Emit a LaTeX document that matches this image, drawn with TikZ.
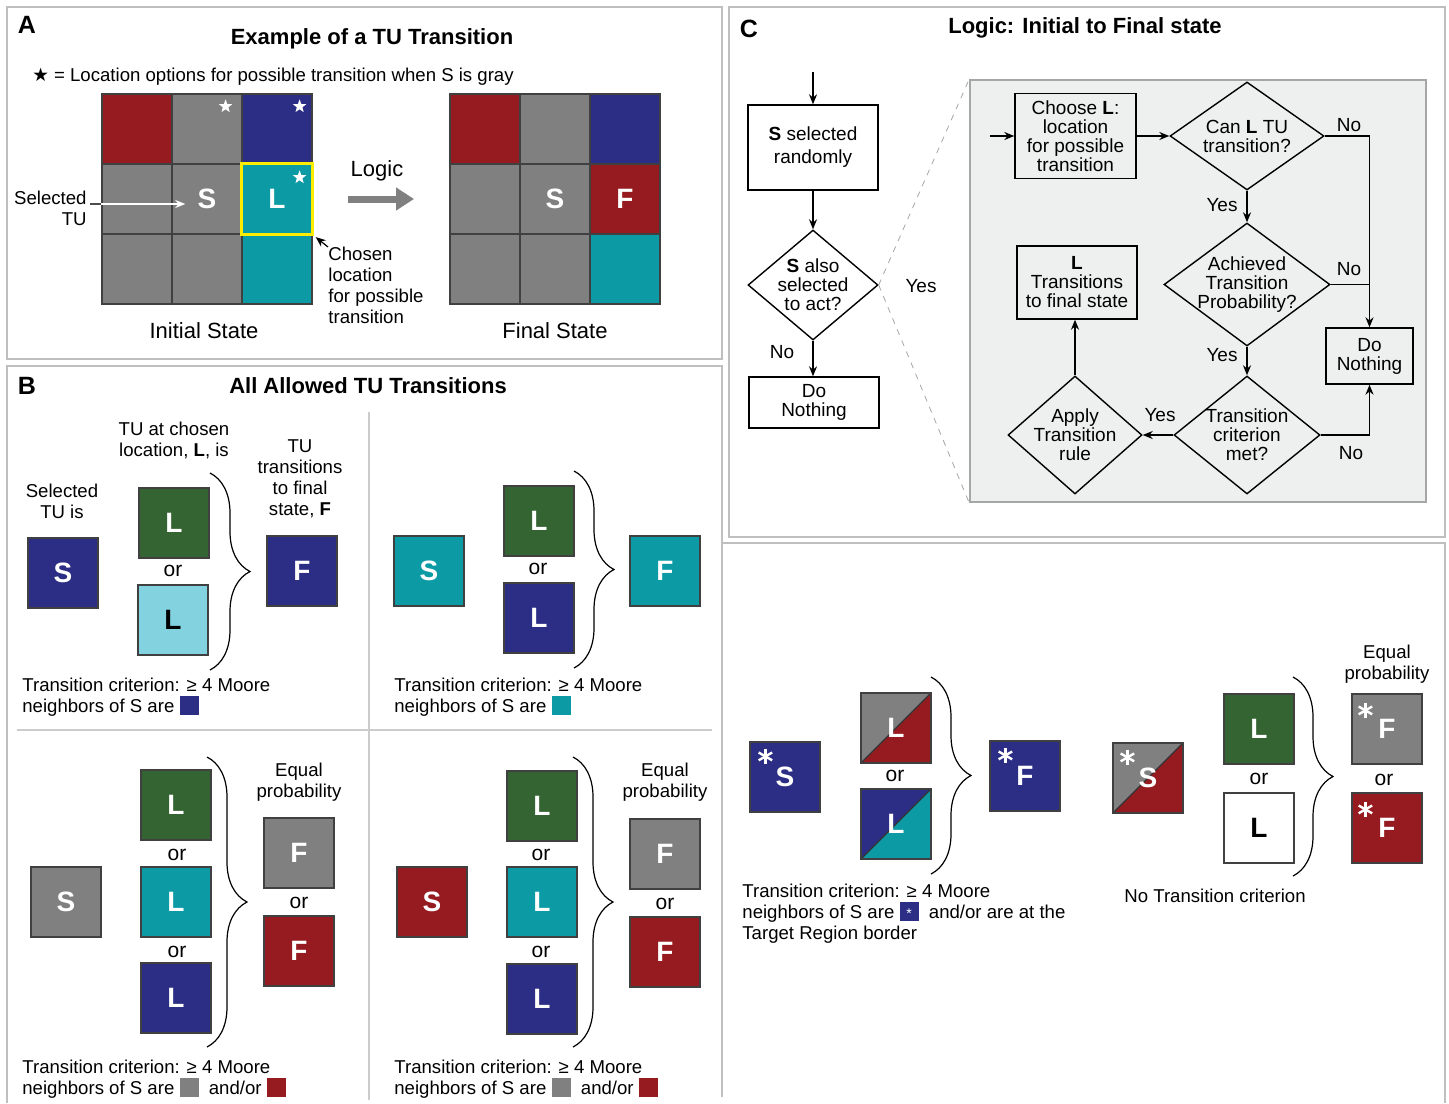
\documentclass[tikz,border=0pt]{standalone}
\usepackage{fontspec}
\setmainfont{Liberation Sans}
\newfontfamily\symfont{DejaVu Sans}
\usepackage{xcolor}
\usepackage{tikz}
\usetikzlibrary{positioning,arrows.meta,shapes.geometric,decorations.pathreplacing}

\definecolor{tured}{RGB}{150,27,32}
\definecolor{tugray}{RGB}{128,128,128}
\definecolor{tublue}{RGB}{43,46,132}
\definecolor{tuteal}{RGB}{12,155,165}
\definecolor{tugreen}{RGB}{52,100,50}
\definecolor{tulight}{RGB}{131,210,224}
\definecolor{tuyellow}{RGB}{255,237,0}
\definecolor{logicbg}{RGB}{238,240,239}

\newcommand{\swatch}[1]{\raisebox{-1.2pt}{\textcolor{#1}{\rule{9.5pt}{9.5pt}}}}
\newcommand{\swatchast}{\raisebox{-1.2pt}{\rlap{\textcolor{tublue}{\rule{9.5pt}{9.5pt}}}\makebox[9.5pt]{\raisebox{1.5pt}{\textcolor{white}{\fontsize{7}{7}\selectfont *}}}}}

\begin{document}
\begin{tikzpicture}[x=0.5pt, y=-0.5pt, align=center, inner sep=0pt,
    font=\fontsize{9.3}{10.5}\selectfont,
    >={Stealth[length=5pt, width=4pt]},
    panel/.style={draw=black!25, line width=1pt},
    divider/.style={draw=black!20, line width=0.8pt},
    letter/.style={font=\fontsize{12.5}{12.5}\selectfont\bfseries},
    heading/.style={font=\fontsize{11}{11}\selectfont\bfseries},
    statecap/.style={font=\fontsize{11}{11}\selectfont},
    cell/.style={draw=black!75, line width=0.6pt, minimum size=35pt},
    tuletter/.style={text=white, font=\fontsize{14}{14}\selectfont\bfseries},
    tu/.style={cell, tuletter},
    splittu/.style 2 args={tu, fill=#1, path picture={
        \fill[#2] (path picture bounding box.south west) -- (path picture bounding box.north east) -- (path picture bounding box.south east) -- cycle;
        \draw[black!80, line width=0.6pt] (path picture bounding box.south west) -- (path picture bounding box.north east);}},
    orword/.style={font=\fontsize{10.5}{10.5}\selectfont},
    astx/.pic={\foreach \a in {90,30,150} \draw[white, line width=1.2pt] (\a:3.9pt) -- (\a+180:3.9pt);},
    wstar/.style={star, star points=5, star point ratio=2.4, fill=white, minimum size=7pt},
    tubrace/.style={decorate, decoration={brace, amplitude=20pt}, line width=0.6pt},
    flowtext/.style={font=\fontsize{9.5}{9.5}\selectfont},
    flowbox/.style={draw, line width=0.7pt, flowtext},
    decision/.style={diamond, draw, line width=0.7pt, flowtext, inner sep=-4pt},
    flow/.style={->, line width=0.7pt},
    zoomline/.style={draw=black!35, dashed, line width=0.4pt},
    criterion/.style={anchor=north west, align=left}]

    \useasboundingbox (0,0) rectangle (1449,1103);

    % Panels
    \draw[panel] (7,7) rectangle (722,359);
    \draw[panel] (7,1103) -- (7,366) -- (722,366) -- (722,1097);
    \draw[panel] (729,7) rectangle (1445,537);
    \draw[panel] (722,543) -- (1445,543) -- (1445,1103);
    \draw[divider] (369,412) -- (369,1100);
    \draw[divider] (17,730) -- (712,730);

    % A: example
    \node[letter] (letA) at (27,25) {A};
    \node[heading] (headA) at (372,39) {Example of a TU Transition};
    \node (starnote) at (273,77) {{\symfont ★} = Location options for possible transition when S is gray};

    \foreach \c [count=\i from 0] in {tured,tugray,tublue,tugray,tugray,tuteal,tugray,tugray,tuteal}
        \node[cell, fill=\c] (ini\i) at ({137+70*mod(\i,3)},{129+70*int(\i/3)}) {};
    \node[tuletter] (iniS) at (ini4) {S};
    \node[tuletter] (iniL) at (ini5) {L};
    \draw[tuyellow, line width=1.6pt] (ini5.south west) rectangle (ini5.north east);
    \node[wstar] (star1) at ([shift={(-8.5pt,-6.5pt)}]ini1.north east) {};
    \node[wstar] (star2) at ([shift={(-6.5pt,-6.5pt)}]ini2.north east) {};
    \node[wstar] (star3) at ([shift={(-6.5pt,-7pt)}]ini5.north east) {};

    \node[anchor=east, align=right] (seltu) at (87,208) {Selected\\TU};
    \coordinate (selfrom) at (90,204);
    \draw[black!70, line width=0.6pt] (selfrom) -- (selfrom -| ini3.west);
    \draw[white, line width=0.7pt, ->] (selfrom -| ini3.west) -- ([xshift=-6pt]selfrom -| iniS.west);

    \node[anchor=north west, align=left] (chosen) at (328,247) {Chosen\\location\\for possible\\transition};
    \draw[->, line width=0.6pt, shorten >=2pt] (chosen.north west) -- (ini5.south east);

    \node[statecap] (logic) at (377,171) {Logic};
    \coordinate (logicfrom) at (348,199);
    \coordinate (logicto) at (414,199);
    \draw[tugray, line width=3.5pt, -{Triangle[length=9pt, width=11pt]}] (logicfrom) -- (logicto);

    \foreach \c [count=\i from 0] in {tured,tugray,tublue,tugray,tugray,tured,tugray,tugray,tuteal}
        \node[cell, fill=\c] (fin\i) at ({485+70*mod(\i,3)},{129+70*int(\i/3)}) {};
    \node[tuletter] (finS) at (fin4) {S};
    \node[tuletter] (finF) at (fin5) {F};

    \node[statecap] (inicap) at (204,331) {Initial State};
    \node[statecap] (fincap) at (555,331) {Final State};

    % B: allowed transitions
    \node[letter] (letB) at (27,386) {B};
    \node[heading] (headB) at (368,386) {All Allowed TU Transitions};

    \node (s1cap) at (62,501) {Selected\\TU is};
    \node[tu, fill=tublue] (s1) at (63,573) {S};
    \node (l1cap) at (174,440) {TU at chosen\\location, \textbf{L}, is};
    \node[tu, fill=tugreen] (l1a) at (174,523) {L};
    \node[orword] (or1) at (173,571) {or};
    \node[tu, fill=tulight, text=black] (l1b) at (173,620) {L};
    \draw[tubrace] (210,473) -- (210,670);
    \node (f1cap) at (300,479) {TU\\transitions\\to final\\state, \textbf{F}};
    \node[tu, fill=tublue] (f1) at (302,571) {F};
    \node[criterion] (crit1) at (22,678) {Transition criterion: ≥ 4 Moore\\neighbors of S are \swatch{tublue}};

    \node[tu, fill=tuteal] (s2) at (429,571) {S};
    \node[tu, fill=tugreen] (l2a) at (539,521) {L};
    \node[orword] (or2) at (538,569) {or};
    \node[tu, fill=tublue] (l2b) at (539,618) {L};
    \draw[tubrace] (574,471) -- (574,668);
    \node[tu, fill=tuteal] (f2) at (665,571) {F};
    \node[criterion] (crit2) at (394,678) {Transition criterion: ≥ 4 Moore\\neighbors of S are \swatch{tuteal}};

    \node[tu, fill=tugray] (s3) at (66,902) {S};
    \node[tu, fill=tugreen] (l3a) at (176,805) {L};
    \node[orword] (or3a) at (177,855) {or};
    \node[tu, fill=tuteal] (l3b) at (176,902) {L};
    \node[orword] (or3b) at (177,952) {or};
    \node[tu, fill=tublue] (l3c) at (176,998) {L};
    \draw[tubrace] (207,757) -- (207,1047);
    \node (eq3) at (299,782) {Equal\\probability};
    \node[tu, fill=tugray] (f3a) at (299,853) {F};
    \node[orword] (or3c) at (299,903) {or};
    \node[tu, fill=tured] (f3b) at (299,951) {F};
    \node[criterion] (crit3) at (22,1060) {Transition criterion: ≥ 4 Moore\\neighbors of S are \swatch{tugray}\ \ and/or \swatch{tured}};

    \node[tu, fill=tured] (s4) at (432,902) {S};
    \node[tu, fill=tugreen] (l4a) at (542,806) {L};
    \node[orword] (or4a) at (541,855) {or};
    \node[tu, fill=tuteal] (l4b) at (542,902) {L};
    \node[orword] (or4b) at (541,952) {or};
    \node[tu, fill=tublue] (l4c) at (542,999) {L};
    \draw[tubrace] (573,757) -- (573,1047);
    \node (eq4) at (665,782) {Equal\\probability};
    \node[tu, fill=tugray] (f4a) at (665,854) {F};
    \node[orword] (or4c) at (665,904) {or};
    \node[tu, fill=tured] (f4b) at (665,952) {F};
    \node[criterion] (crit4) at (394,1060) {Transition criterion: ≥ 4 Moore\\neighbors of S are \swatch{tugray}\ \ and/or \swatch{tured}};

    % target region border cases
    \node[tu, fill=tublue] (s5) at (785,777) {S};
    \pic at ([shift={(8pt,-7.5pt)}]s5.north west) {astx};
    \node[splittu={tugray}{tured}] (l5a) at (896,728) {L};
    \node[orword] (or5) at (895,776) {or};
    \node[splittu={tublue}{tuteal}] (l5b) at (896,824) {L};
    \draw[tubrace] (931,677) -- (931,874);
    \node[tu, fill=tublue] (f5) at (1025,776) {F};
    \pic at ([shift={(8pt,-7.5pt)}]f5.north west) {astx};
    \node[criterion] (crit5) at (742,884) {Transition criterion: ≥ 4 Moore\\neighbors of S are \swatchast\ \ and/or are at the\\Target Region border};

    \node[splittu={tugray}{tured}] (s6) at (1148,778) {S};
    \pic at ([shift={(7.5pt,-7.5pt)}]s6.north west) {astx};
    \node[tu, fill=tugreen] (l6a) at (1259,729) {L};
    \node[orword] (or6a) at (1259,779) {or};
    \node[tu, fill=white, text=black] (l6b) at (1259,828) {L};
    \draw[tubrace] (1293,677) -- (1293,876);
    \node (eq6) at (1387,664) {Equal\\probability};
    \node[tu, fill=tugray] (f6a) at (1387,729) {F};
    \pic at ([shift={(7pt,-8.5pt)}]f6a.north west) {astx};
    \node[orword] (or6b) at (1384,780) {or};
    \node[tu, fill=tured] (f6b) at (1387,828) {F};
    \pic at ([shift={(7pt,-8.5pt)}]f6b.north west) {astx};
    \node (nocrit) at (1215,896) {No Transition criterion};

    % C: logic
    \node[letter] (letC) at (749,29) {C};
    \node[heading] (headC) at (1085,28) {Logic: Initial to Final state};

    \coordinate (start) at (813,72);
    \node[flowbox, minimum width=65pt, minimum height=42.5pt] (sel) at (813,147.5) {\textbf{S} selected\\[2pt]randomly};
    \node[decision, minimum width=65pt, minimum height=55pt] (act) at (813,285) {\textbf{S} also\\selected\\to act?};
    \node[flowbox, minimum width=65pt, minimum height=25.5pt] (nothing1) at (814,402.5) {Do\\Nothing};
    \draw[flow] (start) -- (sel);
    \draw[flow] (sel) -- (act);
    \draw[flow] (act) -- (act.south |- nothing1.north);
    \node[flowtext] (no1) at (782,352) {No};
    \node[flowtext] (yes1) at (921,286) {Yes};

    \node[draw=black!35, fill=logicbg, line width=0.8pt, minimum width=228pt, minimum height=211pt] (logicbox) at (1198,291) {};
    \draw[zoomline] (act.east) -- (logicbox.north west);
    \draw[zoomline] (act.east) -- (logicbox.south west);

    \coordinate (entry) at (990,136);
    \node[flowbox, minimum width=60.5pt, minimum height=42.5pt] (choose) at (1075.5,136) {Choose \textbf{L}:\\location\\for possible\\transition};
    \node[decision, minimum width=77pt, minimum height=54pt] (can) at (1247,136) {Can \textbf{L} TU\\transition?};
    \node[decision, minimum width=83pt, minimum height=58.5pt] (ach) at (1247,284.5) {Achieved\\Transition\\Probability?};
    \node[decision, minimum width=73pt, minimum height=59pt] (crit) at (1247,435) {Transition\\criterion\\met?};
    \node[decision, minimum width=67pt, minimum height=59pt] (apply) at (1075,435) {Apply\\Transition\\rule};
    \node[flowbox, minimum width=60pt, minimum height=36.5pt] (final) at (1077,282.5) {\textbf{L}\\Transitions\\to final state};
    \node[flowbox, minimum width=43.5pt, minimum height=28pt] (nothing2) at (1369.5,356) {Do\\Nothing};

    \draw[flow] (entry) -- (choose);
    \draw[flow] (choose) -- (can);
    \draw[flow] (can) -- (ach);
    \draw[flow] (ach) -- (crit);
    \draw[flow] (crit) -- (apply);
    \draw[flow] (apply.north) -- (apply.north |- final.south);
    \draw[flow] (can.east) -| (nothing2.north);
    \draw[line width=0.7pt] (ach.east) -- (ach.east -| nothing2.north);
    \draw[flow] (crit.east) -| (nothing2.south);

    \node[flowtext] (no2) at (1349,125) {No};
    \node[flowtext] (yes2) at (1222,205) {Yes};
    \node[flowtext] (no3) at (1349,269) {No};
    \node[flowtext] (yes3) at (1222,355) {Yes};
    \node[flowtext] (yes4) at (1160,415) {Yes};
    \node[flowtext] (no4) at (1351,453) {No};

\end{tikzpicture}
\end{document}
